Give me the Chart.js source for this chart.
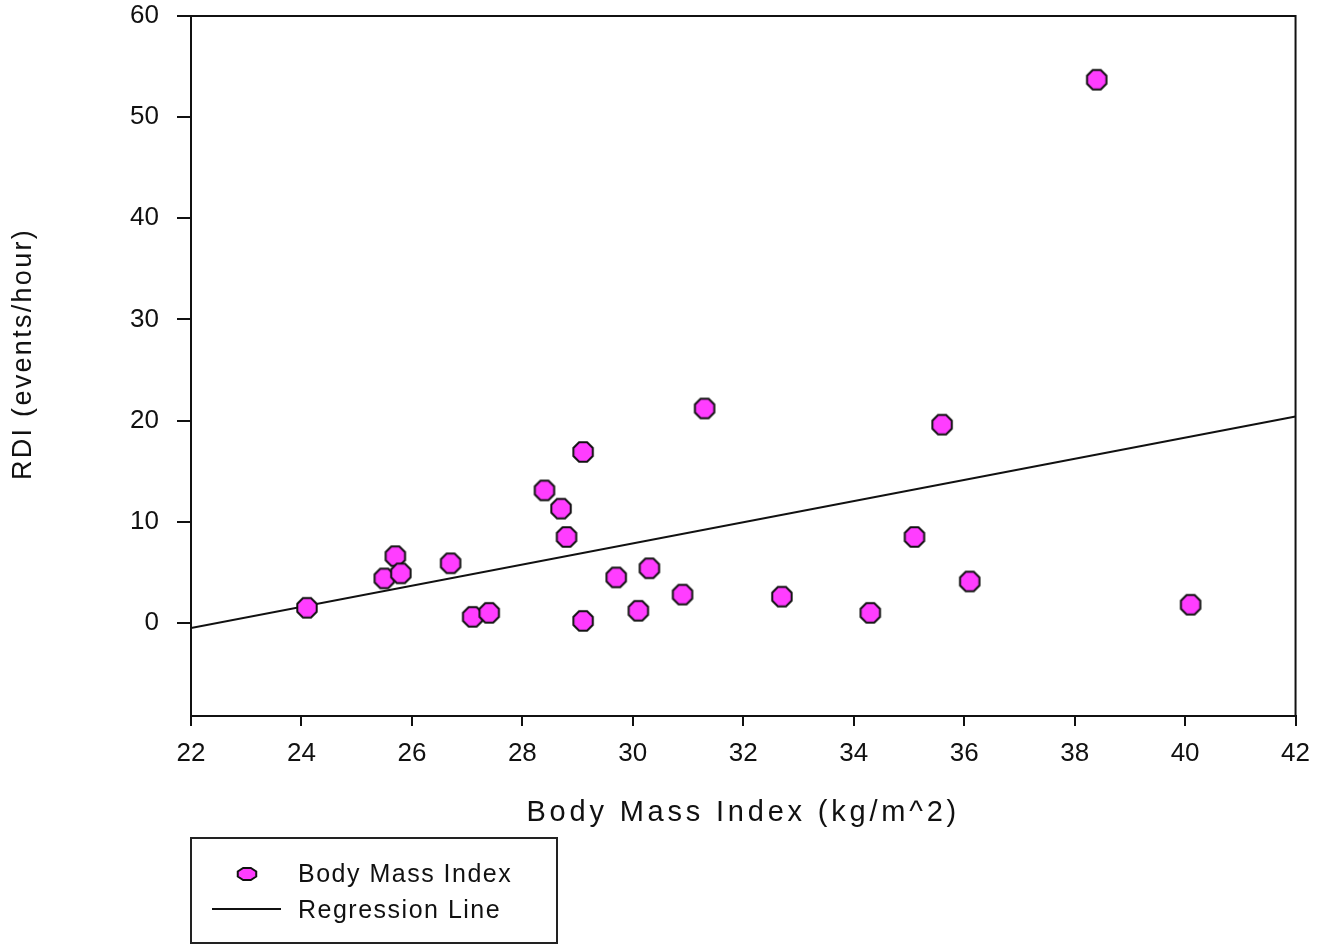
<!DOCTYPE html>
<html>
<head>
<meta charset="utf-8">
<title>RDI vs Body Mass Index</title>
<script src="https://cdn.jsdelivr.net/npm/chart.js@4"></script>
<style>
  html, body { margin: 0; padding: 0; background: #fff; }
</style>
</head>
<body>
<canvas id="chart" width="1322" height="946"></canvas>
<script>
// body mass index (kg/m^2) of each subject
const bmi = [24.1, 25.5, 25.7, 25.8, 26.7, 27.1, 27.4, 28.4, 28.7, 28.8, 29.1, 29.1,
             29.7, 30.1, 30.3, 30.9, 31.3, 32.7, 34.3, 35.1, 35.6, 36.1, 38.4, 40.1];
// RDI (events/hour) of each subject, same order
const rdi = [1.5, 4.4, 6.6, 4.9, 5.9, 0.6, 1.0, 13.1, 11.3, 8.5, 16.9, 0.2,
             4.5, 1.2, 5.4, 2.8, 21.2, 2.6, 1.0, 8.5, 19.6, 4.1, 53.7, 1.8];
// the regression line, both ends
const lineX = [22, 42];
const lineY = [-0.5, 20.4];

const xTicks = [22, 24, 26, 28, 30, 32, 34, 36, 38, 40, 42];
const yTicks = [0, 10, 20, 30, 40, 50, 60];

const FONT = "'Liberation Sans', Arial, sans-serif";
const INK = '#111';
const PINK = '#ff3dff';

let points = [];
for (let i = 0; i < bmi.length; i++) {
	points.push({x: bmi[i], y: rdi[i]});
}
let regLine = [];
for (let i = 0; i < lineX.length; i++) {
	regLine.push({x: lineX[i], y: lineY[i]});
}

// octagon marker, drawn once and used as the point style
function octagon(ctx, cx, cy, rx, ry) {
	ctx.beginPath();
	for (let k = 0; k < 8; k++) {
		const t = Math.PI / 8 + k * Math.PI / 4;
		ctx.lineTo(cx + rx * Math.cos(t), cy + ry * Math.sin(t));
	}
	ctx.closePath();
	ctx.fillStyle = PINK;
	ctx.fill();
	ctx.strokeStyle = INK;
	ctx.lineWidth = 2;
	ctx.stroke();
}
const marker = document.createElement('canvas');
marker.width = 24;
marker.height = 24;
octagon(marker.getContext('2d'), 12, 12, 10.5, 10.5);

// the titles in the picture are spaced wider than the font itself
// (and the y title sits a little above the middle of the axis)
const titleSpacing = {x: '3.8px', y: '2.3px'};
const titleShift = {x: 0, y: -12};
const spacedTitles = {
	id: 'spacedTitles',
	beforeDraw(chart) {
		for (const id of ['x', 'y']) {
			const scale = chart.scales[id];
			if (scale._spaced) continue;
			const draw = scale.drawTitle.bind(scale);
			scale.drawTitle = function () {
				chart.ctx.save();
				chart.ctx.letterSpacing = titleSpacing[id];
				chart.ctx.translate(0, titleShift[id]);
				draw();
				chart.ctx.restore();
			};
			scale._spaced = true;
		}
	}
};

// top and right sides of the box round the plot
const frame = {
	id: 'frame',
	afterDatasetsDraw(chart) {
		const {ctx, chartArea: a} = chart;
		ctx.save();
		ctx.strokeStyle = INK;
		ctx.lineWidth = 2;
		ctx.strokeRect(a.left, a.top, a.right - a.left, a.bottom - a.top);
		ctx.restore();
	}
};

// legend in a box under the x axis
const boxLegend = {
	id: 'boxLegend',
	afterDraw(chart) {
		const {ctx, chartArea: a} = chart;
		const left = a.left, top = a.bottom + 122;
		const sc = chart.data.datasets[0], ln = chart.data.datasets[1];
		ctx.save();
		ctx.strokeStyle = '#222';
		ctx.lineWidth = 2;
		ctx.strokeRect(left, top, 366, 105);

		// marker, a flattened octagon like in the picture
		octagon(ctx, left + 56, top + 36, 10, 6.5);

		// line sample
		ctx.beginPath();
		ctx.moveTo(left + 21, top + 71);
		ctx.lineTo(left + 90, top + 71);
		ctx.strokeStyle = ln.borderColor;
		ctx.lineWidth = ln.borderWidth;
		ctx.stroke();

		ctx.fillStyle = INK;
		ctx.font = '25px ' + FONT;
		ctx.letterSpacing = '1.5px';
		ctx.textBaseline = 'middle';
		ctx.fillText(sc.label, left + 107, top + 37);
		ctx.fillText(ln.label, left + 107, top + 73);
		ctx.restore();
	}
};

const ctx = document.querySelector('#chart');
const chart = new Chart(ctx, {
	type: 'scatter',
	data: {
		datasets: [{
			label: 'Body Mass Index',
			data: points,
			pointStyle: marker,
			backgroundColor: PINK,
			borderColor: INK,
			borderWidth: 2,
			pointRadius: 10,
			pointHoverRadius: 10
		}, {
			type: 'line',
			label: 'Regression Line',
			data: regLine,
			borderColor: INK,
			borderWidth: 2,
			pointRadius: 0,
			fill: false
		}]
	},
	options: {
		responsive: false,
		animation: false,
		layout: {padding: {left: 0, top: 16, right: 26, bottom: 110}},
		plugins: {
			legend: {display: false},
			tooltip: {enabled: false}
		},
		scales: {
			x: {
				type: 'linear',
				min: 22,
				max: 42,
				afterBuildTicks: (s) => { s.ticks = xTicks.map(v => ({value: v})); },
				afterFit: (s) => { s.height = 120; },
				grid: {drawOnChartArea: false, tickLength: 10, color: INK, lineWidth: 2},
				border: {color: INK, width: 2},
				ticks: {color: INK, padding: 12, maxRotation: 0, font: {family: FONT, size: 26}},
				title: {
					display: true,
					text: 'Body Mass Index (kg/m^2)',
					color: INK,
					padding: {top: 0, bottom: 6},
					font: {family: FONT, size: 29}
				}
			},
			y: {
				type: 'linear',
				min: -9.2,
				max: 60,
				afterBuildTicks: (s) => { s.ticks = yTicks.map(v => ({value: v})); },
				// fixed width, and no extra room above for the top label
				afterFit: (s) => { s.width = 191; s.paddingTop = 0; s.paddingBottom = 0; },
				grid: {drawOnChartArea: false, tickLength: 14, color: INK, lineWidth: 2},
				border: {color: INK, width: 2},
				ticks: {color: INK, padding: 18, font: {family: FONT, size: 26}},
				title: {
					display: true,
					text: 'RDI (events/hour)',
					color: INK,
					padding: {top: 7, bottom: 0},
					font: {family: FONT, size: 27}
				}
			}
		}
	},
	plugins: [spacedTitles, frame, boxLegend]
});
</script>
</body>
</html>
